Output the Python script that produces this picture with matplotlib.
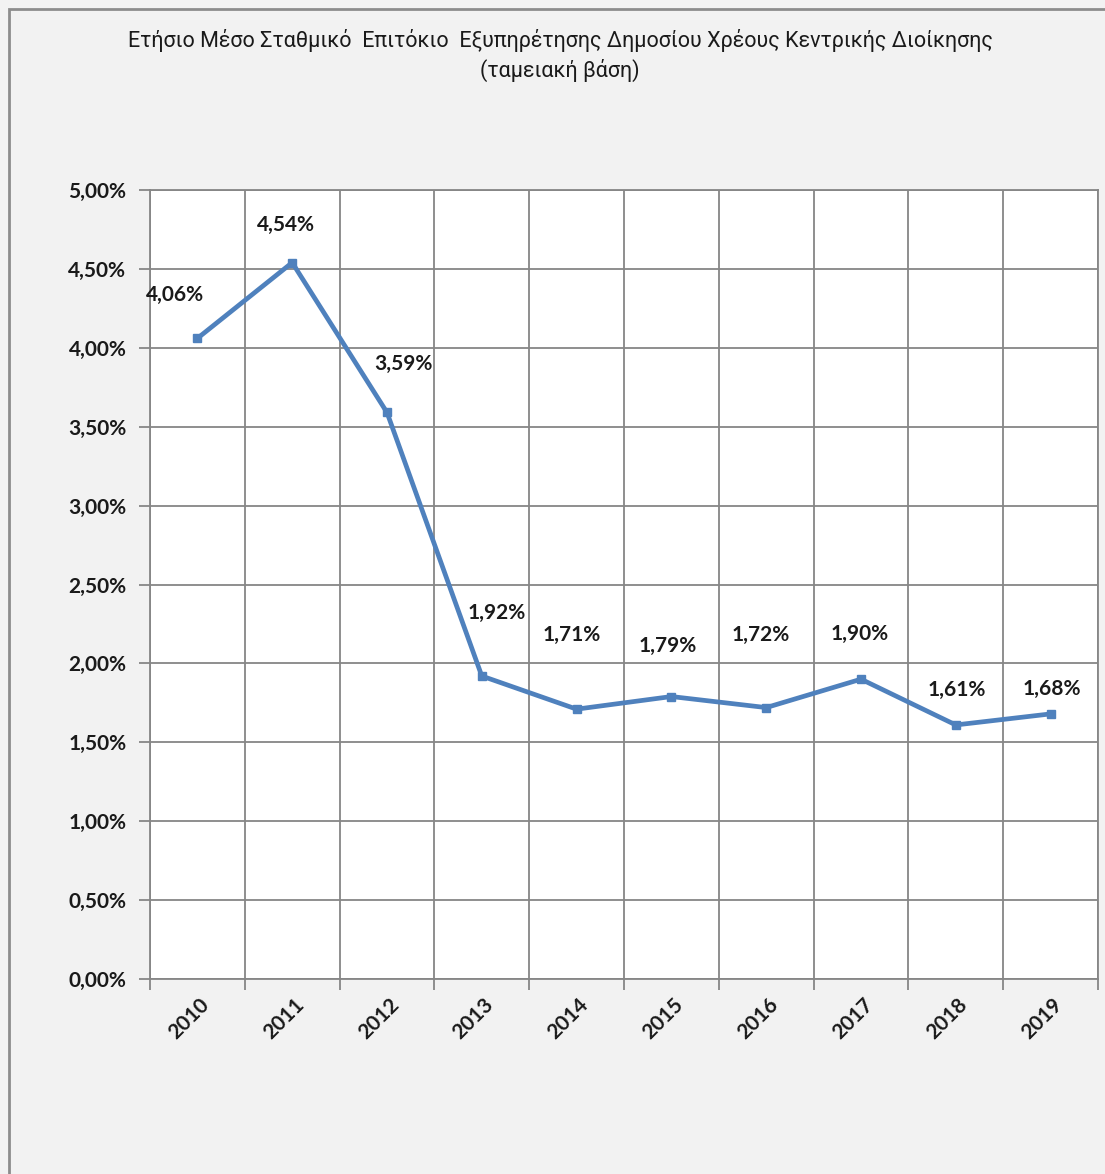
import matplotlib
matplotlib.use("Agg")
import matplotlib.pyplot as plt
from matplotlib.patches import Rectangle
from matplotlib.ticker import FixedLocator, FuncFormatter
from matplotlib.transforms import ScaledTranslation

years = ["2010", "2011", "2012", "2013", "2014", "2015", "2016", "2017", "2018", "2019"]
rates = [4.06, 4.54, 3.59, 1.92, 1.71, 1.79, 1.72, 1.90, 1.61, 1.68]
label_texts = ["4,06%", "4,54%", "3,59%", "1,92%", "1,71%", "1,79%", "1,72%", "1,90%", "1,61%", "1,68%"]
label_dx = [-22, -6, 16, 15, -5, -4, -5, -1, 1, 1]
label_dy = [43, 38, 49, 63, 74, 51, 73, 45, 35, 25]
y_ticks = [0.0, 0.5, 1.0, 1.5, 2.0, 2.5, 3.0, 3.5, 4.0, 4.5, 5.0]
title_line1 = "Ετήσιο Μέσο Σταθμικό  Επιτόκιο  Εξυπηρέτησης Δημοσίου Χρέους Κεντρικής Διοίκησης"
title_line2 = "(ταμειακή βάση)"

FONT = ["Lato", "Roboto", "DejaVu Sans"]
TFONT = ["Roboto", "Noto Sans", "DejaVu Sans"]
W, H = 1105, 1174
fig = plt.figure(figsize=(W / 100, H / 100), dpi=100)
fig.patch.set_facecolor("#f2f2f2")

# outer frame (top and left edges visible)
fig.add_artist(Rectangle((8.5 / W, -0.1), 1.2, 1 - 8.5 / H + 0.1, transform=fig.transFigure,
                         fill=False, edgecolor="#8c8c8c", linewidth=2))

ax = fig.add_axes([150 / W, 195 / H, 948 / W, 789 / H])
ax.set_facecolor("white")
x = list(range(len(years)))
ax.plot(x, rates, color="#4F81BD", linewidth=3.4, marker="s", markersize=6,
        markerfacecolor="#4F81BD", markeredgecolor="#4F81BD", zorder=3)

ax.set_xlim(-0.5, len(years) - 0.5)
ax.set_ylim(0, 5)

grid_c = "#868686"
ax.xaxis.set_major_locator(FixedLocator(x))
ax.set_xticklabels(years)
ax.xaxis.set_minor_locator(FixedLocator([i - 0.5 for i in range(len(years) + 1)]))
ax.tick_params(axis="x", which="major", length=0, pad=16)
ax.tick_params(axis="x", which="minor", length=8, width=1.3, color=grid_c)
ax.grid(axis="x", which="minor", color=grid_c, linewidth=1.3)
ax.set_yticks(y_ticks)
ax.yaxis.set_major_formatter(FuncFormatter(lambda v, p: f"{v:.2f}%".replace(".", ",")))
ax.tick_params(axis="y", length=8, width=1.3, color=grid_c, pad=9)
ax.grid(axis="y", which="major", color=grid_c, linewidth=1.3)
ax.set_axisbelow(True)
for s in ax.spines.values():
    s.set_color(grid_c)
    s.set_linewidth(1.3)

FS = 15
for lab in ax.get_yticklabels():
    lab.set_fontfamily(FONT)
    lab.set_fontweight("bold")
    lab.set_fontsize(FS)
    lab.set_color("#1a1a1a")

off = ScaledTranslation(9 / 100, 0, fig.dpi_scale_trans)
for lab in ax.get_xticklabels():
    lab.set_fontfamily(FONT)
    lab.set_fontweight("bold")
    lab.set_fontsize(FS)
    lab.set_color("#1a1a1a")
    lab.set_rotation(45)
    lab.set_ha("right")
    lab.set_va("center")
    lab.set_rotation_mode("anchor")
    lab.set_transform(lab.get_transform() + off)

for xi, yi, t, dx, dy in zip(x, rates, label_texts, label_dx, label_dy):
    ax.annotate(t, (xi, yi), xytext=(dx, dy), textcoords="offset pixels",
                ha="center", va="center", fontsize=FS, fontweight="bold",
                family=FONT, color="#1a1a1a")

fig.text(560 / W, 1 - 40 / H, title_line1, ha="center", va="center",
         fontsize=15.5, family=TFONT, color="#1a1a1a")
fig.text(560 / W, 1 - 70 / H, title_line2, ha="center", va="center",
         fontsize=15.5, family=TFONT, color="#1a1a1a")

fig.savefig("out.png", dpi=100, facecolor=fig.get_facecolor())
